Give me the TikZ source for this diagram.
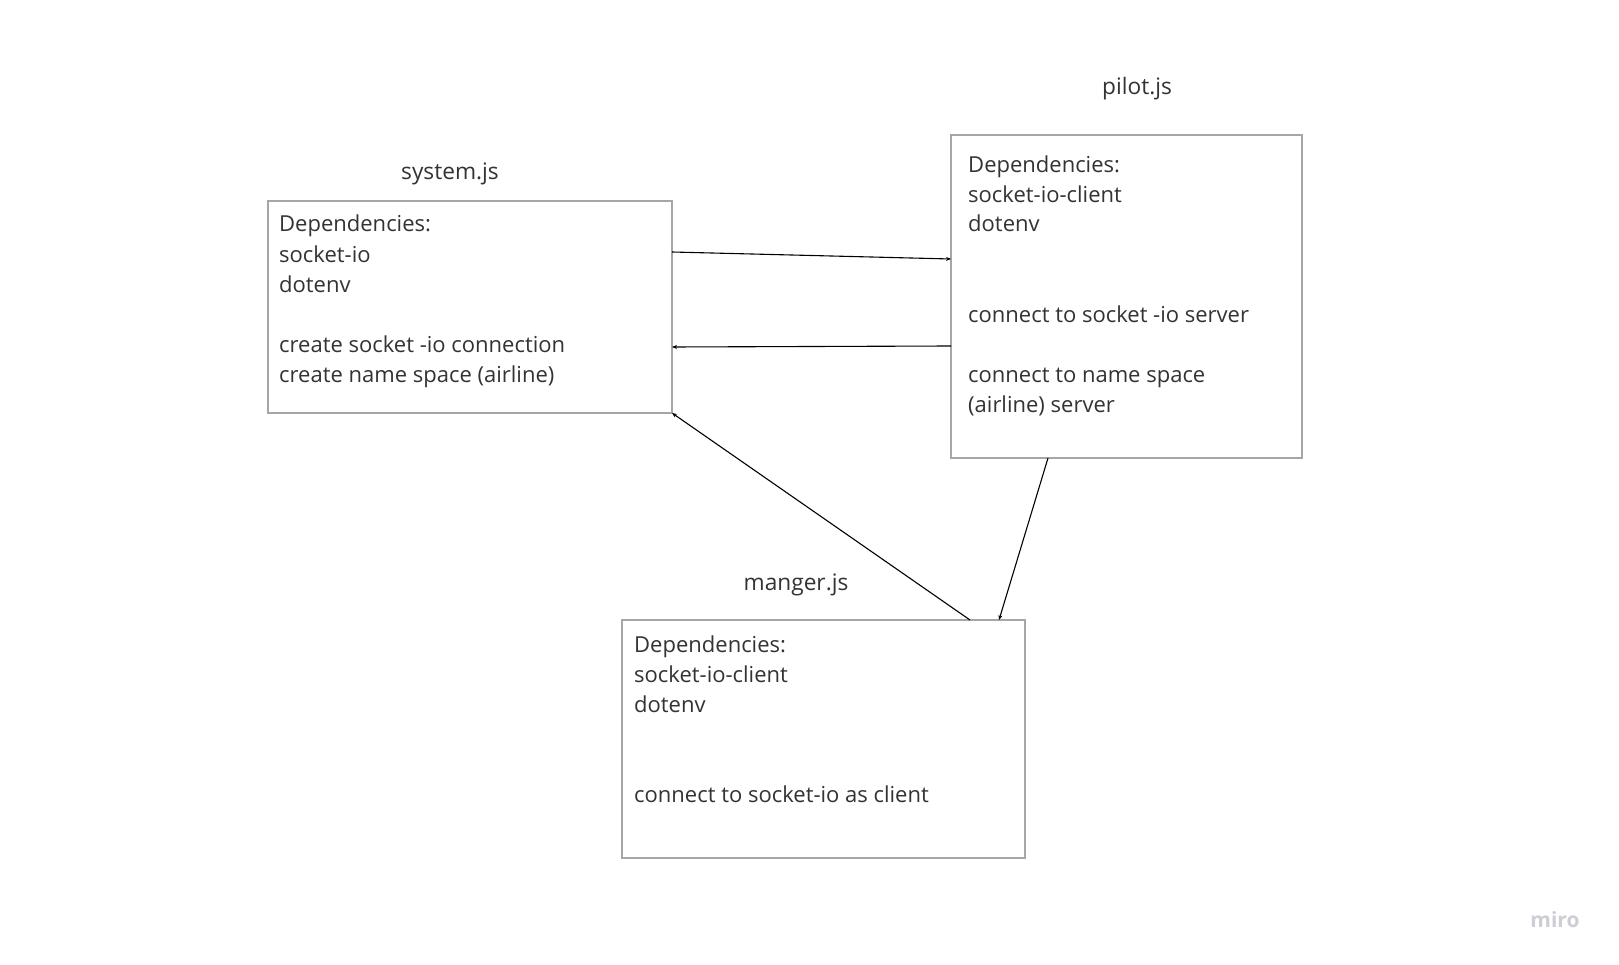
\documentclass[tikz,border=0pt]{standalone}
\usepackage{fontspec}
\setmainfont{Open Sans}
\usetikzlibrary{arrows.meta}
\definecolor{boxgray}{HTML}{A6A6A6}
\definecolor{txt}{HTML}{333333}
\definecolor{mirogray}{HTML}{CDCDD6}
\tikzset{
  boxnode/.style={draw=boxgray, line width=1.2pt, rectangle, inner sep=0pt, outer sep=0pt, anchor=north west},
  bodytext/.style={anchor=base west, inner sep=0pt, text=txt, align=left, font=\fontsize{22}{30}\selectfont},
  titletext/.style={anchor=base, inner sep=0pt, text=txt, font=\fontsize{22.7}{30}\selectfont},
  conn/.style={draw=black, line width=1.1pt, -{Stealth[length=5pt,width=4pt]}}
}
\begin{document}
\begin{tikzpicture}[x=1pt,y=-1pt]
\useasboundingbox (0,0) rectangle (1619,965);
\fill[white] (0,0) rectangle (1619,965);

% boxes
\node[boxnode, minimum width=404pt, minimum height=212pt] (sys) at (268,201) {};
\node[boxnode, minimum width=351pt, minimum height=323pt] (pil) at (951,135) {};
\node[boxnode, minimum width=403pt, minimum height=238pt] (man) at (622,620) {};

% titles
\node[titletext] (systitle) at (450,180) {system.js};
\node[titletext] (piltitle) at (1137,95) {pilot.js};
\node[titletext] (mantitle) at (796,590) {manger.js};

% body texts (anchored at the baseline of their last line)
\node[bodytext] (systxt) at (279,382) {Dependencies:\\socket-io\\dotenv\\[30pt]create socket -io connection\\create name space (airline)};
\node[bodytext] (piltxt) at (968,412) {Dependencies:\\socket-io-client\\dotenv\\[60pt]connect to socket -io server\\[30pt]connect to name space\\(airline) server};
\node[bodytext] (mantxt) at (634,802) {Dependencies:\\socket-io-client\\dotenv\\[60pt]connect to socket-io as client};

% logo
\node[anchor=base, inner sep=0pt, text=mirogray, font=\fontsize{21}{24}\bfseries\selectfont] (logo) at (1555,927) {miro};

% connectors
\draw[conn] ([yshift=-51pt]sys.north east) -- ([yshift=-124pt]pil.north west);
\draw[conn] ([yshift=-211pt]pil.north west) -- ([yshift=-146pt]sys.north east);
\draw[conn] ([xshift=348pt]man.north west) -- (sys.south east);
\draw[conn] ([xshift=97pt]pil.south west) -- ([xshift=377pt]man.north west);
\end{tikzpicture}
\end{document}
